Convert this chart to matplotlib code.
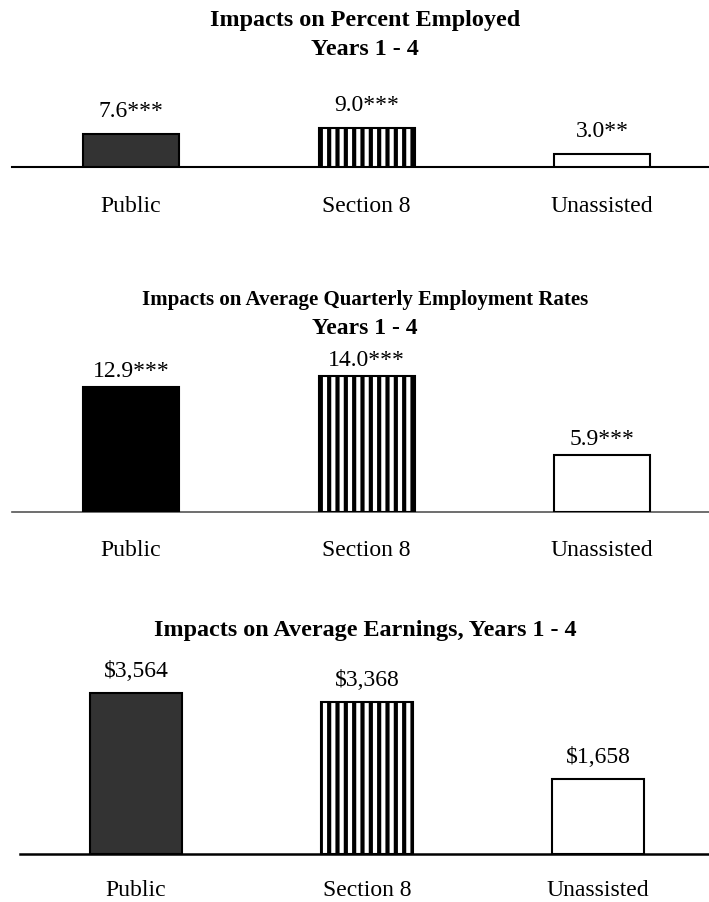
import matplotlib
matplotlib.use("Agg")
import matplotlib.pyplot as plt

plt.rcParams['font.family'] = ['Liberation Serif', 'DejaVu Serif']
plt.rcParams['hatch.linewidth'] = 3.0

W, H, DPI = 709, 903, 100
PT = 72 / DPI  # points per pixel

categories = ["Public", "Section 8", "Unassisted"]

emp_values = [7.6, 9.0, 3.0]
emp_stars = ["***", "***", "**"]

qtr_values = [12.9, 14.0, 5.9]
qtr_stars = ["***", "***", "***"]

earn_values = [3564, 3368, 1658]

titles = [
    ["Impacts on Percent Employed", "Years 1 - 4"],
    ["Impacts on Average Quarterly Employment Rates", "Years 1 - 4"],
    ["Impacts on Average Earnings, Years 1 - 4"],
]

fig = plt.figure(figsize=(W / DPI, H / DPI), dpi=DPI)
fig.patch.set_facecolor("white")


def make_panel(values, labels, left_px, centers_px, bar_w_px, baseline_px,
               top_px, px_per_unit, public_color, base_color, base_lw,
               label_off_px, cat_off_px, title_lines, title_base_px,
               title_sizes):
    right_px = W
    ax = fig.add_axes([left_px / W, 1 - baseline_px / H,
                       (right_px - left_px) / W, (baseline_px - top_px) / H])
    spacing = centers_px[1] - centers_px[0]
    x0 = -(centers_px[0] - left_px) / spacing
    x1 = (right_px - centers_px[0]) / spacing
    ax.set_xlim(x0, x1)
    ax.set_ylim(0, (baseline_px - top_px) / px_per_unit)
    xs = list(range(len(values)))
    fills = [public_color, "white", "white"]
    hatches = [None, "||", None]
    for x, v, fc, h in zip(xs, values, fills, hatches):
        ax.bar(x, v, width=bar_w_px / spacing, facecolor=fc, edgecolor="black",
               linewidth=1.5, hatch=h, zorder=3)
    for x, v, lab in zip(xs, values, labels):
        ax.annotate(lab, (x, v), xytext=(0, label_off_px * PT),
                    textcoords="offset points", ha="center", va="baseline",
                    fontsize=17, annotation_clip=False)
    for x, c in zip(xs, categories):
        ax.annotate(c, (x, 0), xytext=(0, -cat_off_px * PT),
                    textcoords="offset points", ha="center", va="baseline",
                    fontsize=17, annotation_clip=False)
    for s in ["top", "left", "right"]:
        ax.spines[s].set_visible(False)
    ax.spines["bottom"].set_color(base_color)
    ax.spines["bottom"].set_linewidth(base_lw)
    ax.spines["bottom"].set_zorder(2)
    ax.set_yticks([])
    ax.set_xticks([])
    ax.patch.set_visible(False)
    for i, (line, fs) in enumerate(zip(title_lines, title_sizes)):
        fig.text(365 / W, 1 - (title_base_px + 29 * i) / H, line, ha="center",
                 va="baseline", fontsize=fs, fontweight="bold")
    return ax


emp_labels = [f"{v:.1f}{s}" for v, s in zip(emp_values, emp_stars)]
qtr_labels = [f"{v:.1f}{s}" for v, s in zip(qtr_values, qtr_stars)]
earn_labels = [f"${v:,.0f}" for v in earn_values]

make_panel(emp_values, emp_labels, 12, [131, 366.5, 602.5], 96, 168, 70, 4.3,
           "#333333", "black", 1.5, 18.5, 44, titles[0], 26, [17.4, 17.4])
make_panel(qtr_values, qtr_labels, 12, [131, 366.5, 602.5], 96, 513, 340, 9.72,
           "#000000", "#555555", 1.2, 11, 43, titles[1], 305, [15.0, 17.0])
make_panel(earn_values, earn_labels, 20, [136, 367, 599], 92, 855, 650, 0.0452,
           "#333333", "black", 1.8, 17, 41, titles[2], 636, [17.4])

fig.savefig("out.png", dpi=DPI, facecolor="white")
